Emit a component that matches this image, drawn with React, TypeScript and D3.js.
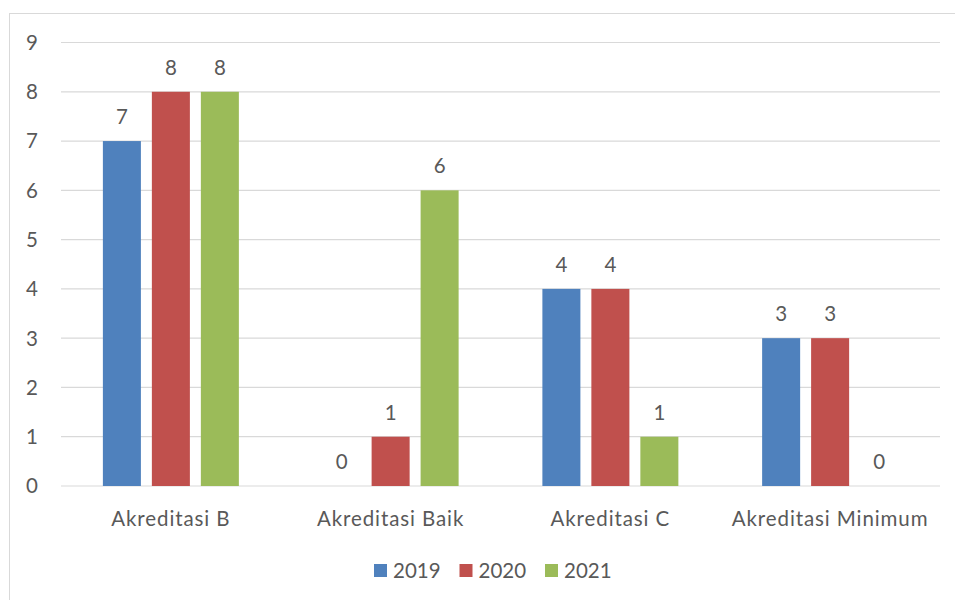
import * as d3 from "d3";

const categories = ["Akreditasi B", "Akreditasi Baik", "Akreditasi C", "Akreditasi Minimum"];
const years = ["2019", "2020", "2021"];
const values2019 = [7, 0, 4, 3];
const values2020 = [8, 1, 4, 3];
const values2021 = [8, 6, 1, 0];
const yTicks = [0, 1, 2, 3, 4, 5, 6, 7, 8, 9];

const colors = ["#4F81BD", "#C0504D", "#9BBB59"];
const series = [values2019, values2020, values2021];

const W = 955;
const H = 600;
const margin = { left: 61, right: 15, top: 42.5, bottom: 114 };
const font = "Lato, 'Open Sans', sans-serif";
const textColor = "#595959";

export default function App() {
  const x0 = d3
    .scaleBand<string>()
    .domain(categories)
    .range([margin.left, W - margin.right]);
  const inner = d3
    .scaleBand<string>()
    .domain(years)
    .range([0, x0.bandwidth()])
    .paddingInner(0.224)
    .paddingOuter(0.855);
  const y = d3
    .scaleLinear()
    .domain([0, 9])
    .range([H - margin.bottom, margin.top]);

  return (
    <svg
      width={W}
      height={H}
      style={{ position: "absolute", left: 0, top: 0 }}
      fontFamily={font}
    >
      <rect x={0} y={0} width={W} height={H} fill="#fff" />
      <rect x={9.5} y={13.5} width={W + 20} height={H + 20} fill="none" stroke="#D9D9D9" strokeWidth={1} />
      {yTicks.map((t) => (
        <g key={t}>
          <line
            x1={margin.left}
            x2={W - margin.right}
            y1={y(t)}
            y2={y(t)}
            stroke="#D9D9D9"
            strokeWidth={1.2}
          />
          <text
            x={38}
            y={y(t)}
            dy="0.36em"
            textAnchor="end"
            fontSize={20.5}
            fill={textColor}
          >
            {t}
          </text>
        </g>
      ))}
      {categories.map((c, ci) => (
        <g key={c}>
          {series.map((vals, si) => {
            const bx = (x0(c) ?? 0) + (inner(years[si]) ?? 0);
            const v = vals[ci];
            return (
              <g key={si}>
                {v > 0 && (
                  <rect
                    x={bx}
                    y={y(v)}
                    width={inner.bandwidth()}
                    height={y(0) - y(v)}
                    fill={colors[si]}
                  />
                )}
                <text
                  x={bx + inner.bandwidth() / 2}
                  y={y(v) - 17}
                  textAnchor="middle"
                  fontSize={20.5}
                  fill={textColor}
                >
                  {v}
                </text>
              </g>
            );
          })}
          <text
            x={(x0(c) ?? 0) + x0.bandwidth() / 2}
            y={y(0) + 40}
            textAnchor="middle"
            fontSize={20.5}
            letterSpacing={0.9}
            fill={textColor}
          >
            {c}
          </text>
        </g>
      ))}
      {years.map((yr, i) => {
        const lx = 374 + i * 85.5;
        return (
          <g key={yr}>
            <rect x={lx} y={564} width={13} height={13} fill={colors[i]} />
            <text x={lx + 19} y={578} fontSize={20.5} fill={textColor}>
              {yr}
            </text>
          </g>
        );
      })}
    </svg>
  );
}
